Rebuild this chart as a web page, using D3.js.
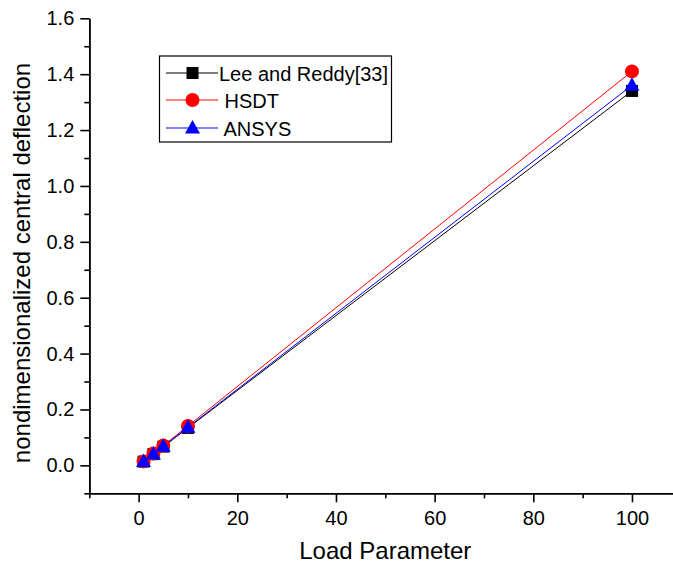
<!DOCTYPE html>
<html><head><meta charset="utf-8">
<script src="https://cdn.jsdelivr.net/npm/d3@7"></script>
<style>body{margin:0;background:#fff}svg{display:block}text{font-family:"Liberation Sans",Arial,sans-serif}</style>
</head><body>
<script>
const loadParam = [1, 3, 5, 10, 100];
const leeReddy = [0.0134, 0.0402, 0.067, 0.134, 1.34];
const hsdt = [0.0141, 0.0424, 0.0707, 0.141, 1.41];
const ansys = [0.0136, 0.0408, 0.068, 0.136, 1.36];
const seriesNames = ["Lee and Reddy[33]", " HSDT", " ANSYS"];
const xMajorTicks = [0, 20, 40, 60, 80, 100];
const xMinorTicks = [-10, 10, 30, 50, 70, 90, 110];
const yMajorTicks = [0.0, 0.2, 0.4, 0.6, 0.8, 1.0, 1.2, 1.4, 1.6];
const yMinorTicks = [-0.1, 0.1, 0.3, 0.5, 0.7, 0.9, 1.1, 1.3, 1.5];

const W = 673, H = 568;
const svg = d3.select("body").append("svg").attr("width", W).attr("height", H);
const x = d3.scaleLinear().domain([-10, 110]).range([89.3, 681.3]);
const y = d3.scaleLinear().domain([-0.1, 1.6]).range([493.3, 18.3]);

const series = [
  {name: seriesNames[0], vals: leeReddy, color: "#000000", shape: "square"},
  {name: seriesNames[1], vals: hsdt, color: "#ff0000", shape: "circle"},
  {name: seriesNames[2], vals: ansys, color: "#0000ff", shape: "triangle"}
];

// axes
const xAxisG = svg.append("g").attr("transform", `translate(0,${y(-0.1)})`);
xAxisG.call(d3.axisBottom(x).tickValues(xMajorTicks).tickSize(9).tickSizeOuter(0).tickPadding(9).tickFormat(d3.format("d")));
const xMinorG = svg.append("g").attr("transform", `translate(0,${y(-0.1)})`);
xMinorG.call(d3.axisBottom(x).tickValues(xMinorTicks).tickSize(5).tickSizeOuter(0).tickFormat(""));
const yAxisG = svg.append("g").attr("transform", `translate(${x(-10)},0)`);
yAxisG.call(d3.axisLeft(y).tickValues(yMajorTicks).tickSize(9).tickSizeOuter(0).tickPadding(6).tickFormat(d3.format(".1f")));
const yMinorG = svg.append("g").attr("transform", `translate(${x(-10)},0)`);
yMinorG.call(d3.axisLeft(y).tickValues(yMinorTicks).tickSize(5).tickSizeOuter(0).tickFormat(""));
svg.selectAll(".domain").attr("stroke", "#000").attr("stroke-width", 1.6);
svg.selectAll(".tick line").attr("stroke", "#000").attr("stroke-width", 1.6);
svg.selectAll(".tick text").attr("font-size", 20).attr("fill", "#000").attr("font-family", '"Liberation Sans",Arial,sans-serif');

// axis titles
svg.append("text").attr("x", x(50)).attr("y", 559).attr("text-anchor", "middle").attr("font-size", 24).text("Load Parameter");
svg.append("text").attr("transform", `translate(30,263) rotate(-90)`).attr("text-anchor", "middle").attr("font-size", 24).text("nondimensionalized central deflection");

function drawMarker(g, shape, cx, cy, color) {
  if (shape === "square") g.append("rect").attr("x", cx - 6).attr("y", cy - 6).attr("width", 12).attr("height", 12).attr("fill", color);
  else if (shape === "circle") g.append("circle").attr("cx", cx).attr("cy", cy).attr("r", 7).attr("fill", color);
  else g.append("path").attr("d", `M${cx},${cy - 8}L${cx + 7.5},${cy + 5.5}L${cx - 7.5},${cy + 5.5}Z`).attr("fill", color);
}

const line = d3.line().x(d => x(d[0])).y(d => y(d[1]));
series.forEach(s => {
  const pts = loadParam.map((p, i) => [p, s.vals[i]]);
  svg.append("path").attr("d", line(pts)).attr("fill", "none").attr("stroke", s.color).attr("stroke-width", 1);
});
series.forEach(s => {
  const g = svg.append("g");
  loadParam.forEach((p, i) => drawMarker(g, s.shape, x(p), y(s.vals[i]), s.color));
});

// legend
const lg = svg.append("g");
lg.append("rect").attr("x", 159.5).attr("y", 56).attr("width", 232).attr("height", 86).attr("fill", "#fff").attr("stroke", "#000").attr("stroke-width", 1.2);
const rowsY = [73, 100, 128];
series.forEach((s, i) => {
  lg.append("line").attr("x1", 166).attr("x2", 218).attr("y1", rowsY[i]).attr("y2", rowsY[i]).attr("stroke", s.color).attr("stroke-width", 1);
  drawMarker(lg, s.shape, 192.5, rowsY[i], s.color);
  lg.append("text").attr("x", 219).attr("y", rowsY[i] + 7.5).attr("font-size", 20).attr("xml:space", "preserve").style("white-space", "pre").text(s.name);
});
</script>
</body></html>
